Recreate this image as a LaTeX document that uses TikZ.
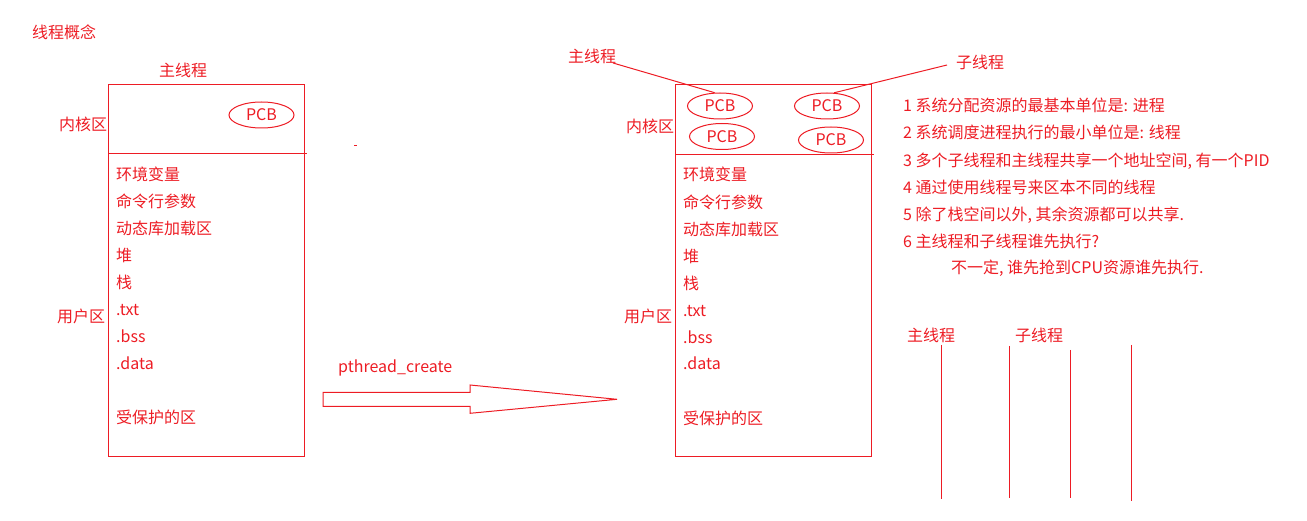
\documentclass[tikz,border=0pt]{standalone}
\usepackage{fontspec}
\setmainfont{Noto Sans CJK SC}
\usetikzlibrary{shapes.geometric}
\definecolor{pr}{RGB}{237,28,36}
\begin{document}
\begin{tikzpicture}[x=1pt,y=-1pt,
  txt/.style={anchor=west,inner sep=0pt,text height=14pt,text depth=2pt,font=\fontsize{16pt}{18pt}\selectfont,text=pr},
  pcb/.style={draw=pr,line width=1pt,ellipse,minimum width=65pt,minimum height=26pt,inner sep=0pt,text=pr,font=\fontsize{16pt}{18pt}\selectfont},
  ln/.style={draw=pr,line width=1pt}]
\useasboundingbox (0,0) rectangle (1307,521);
% title
\node[txt] (title) at (32,33) {线程概念};
% ---------- left box ----------
\node[txt] (lmain) at (159,71) {主线程};
\node[txt] (lkern) at (59,125) {内核区};
\node[txt] (luser) at (57,317) {用户区};
\draw[ln] (108,84.5) rectangle (304,456);
\draw[ln] (108,153.5) -- (307,153.5);
\draw[ln] (354,146) -- (357,146);
\node[pcb] (lpcb) at (261.5,115) {PCB};
\foreach \t [count=\i] in {环境变量,命令行参数,动态库加载区,堆,栈,.txt,.bss,.data} {
  \node[txt] (l\i) at (116,148+27*\i) {\t};
}
\node[txt] (lprot) at (116,417) {受保护的区};
% ---------- arrow ----------
\node[txt] (pc) at (338,367) {pthread\_create};
\draw[ln] (323,392.3) -- (470,392.3) -- (470,385) -- (617,399.3) -- (470,413.3) -- (470,406.3) -- (323,406.3) -- cycle;
% ---------- right box ----------
\node[txt] (rmain) at (568,57) {主线程};
\node[txt] (rsub) at (956,63) {子线程};
\node[txt] (rkern) at (626,127) {内核区};
\node[txt] (ruser) at (624,317) {用户区};
\draw[ln] (675.5,85) rectangle (871.5,456.7);
\draw[ln] (675.5,154.3) -- (874,154.3);
\node[pcb] (p1) at (720,106) {PCB};
\node[pcb] (p2) at (827,106) {PCB};
\node[pcb] (p3) at (722,136.5) {PCB};
\node[pcb] (p4) at (831,140) {PCB};
\coordinate (cm) at (613,63);
\coordinate (cs) at (947,65);
\draw[ln] (cm) -- (p1.112);
\draw[ln] (cs) -- (p2.62);
\node[txt] (r1) at (683,175) {环境变量};
\node[txt] (r2) at (683,203) {命令行参数};
\node[txt] (r3) at (683,230) {动态库加载区};
\node[txt] (r4) at (683,257) {堆};
\node[txt] (r5) at (683,284) {栈};
\node[txt] (r6) at (683,311) {.txt};
\node[txt] (r7) at (683,338) {.bss};
\node[txt] (r8) at (683,364) {.data};
\node[txt] (rprot) at (683,418) {受保护的区};
% ---------- notes ----------
\node[txt] (n1) at (903,106) {1 系统分配资源的最基本单位是: 进程};
\node[txt] (n2) at (903,133) {2 系统调度进程执行的最小单位是: 线程};
\node[txt] (n3) at (903,161) {3 多个子线程和主线程共享一个地址空间, 有一个PID};
\node[txt] (n4) at (903,188) {4 通过使用线程号来区本不同的线程};
\node[txt] (n5) at (903,215) {5 除了栈空间以外, 其余资源都可以共享.};
\node[txt] (n6) at (903,242) {6 主线程和子线程谁先执行?};
\node[txt] (n7) at (951,268) {不一定, 谁先抢到CPU资源谁先执行.};
% ---------- timelines ----------
\node[txt] (tm) at (907,336) {主线程};
\node[txt] (ts) at (1015,336) {子线程};
\draw[ln] (941.3,345) -- (941.3,499.3);
\draw[ln] (1009.3,346) -- (1009.3,498.3);
\draw[ln] (1070.3,350) -- (1070.3,497.7);
\draw[ln] (1131.3,345) -- (1131.3,500.7);
\end{tikzpicture}
\end{document}
